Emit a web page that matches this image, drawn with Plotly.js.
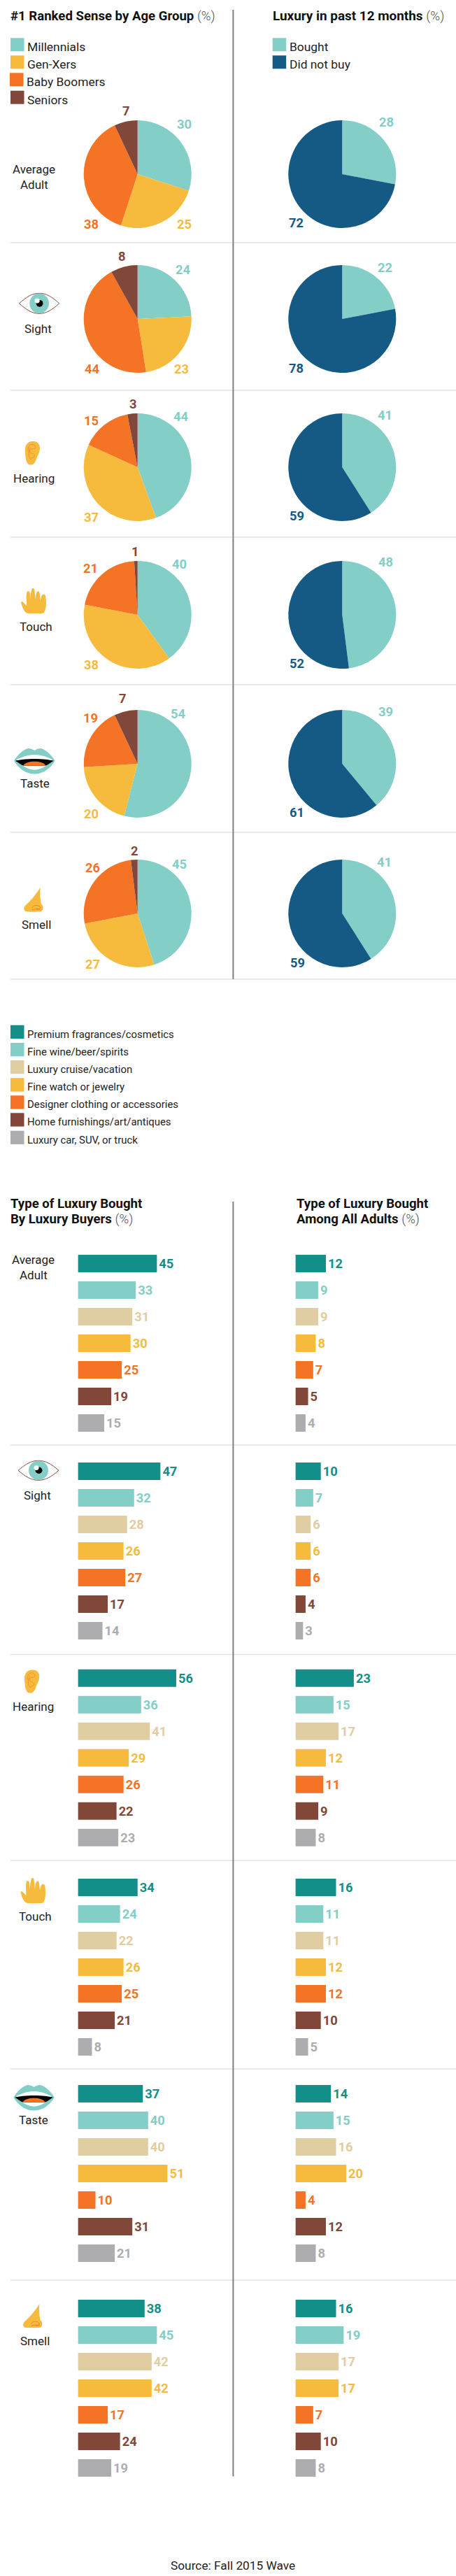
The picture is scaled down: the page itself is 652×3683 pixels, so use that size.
<!DOCTYPE html>
<html>
<head>
<meta charset="utf-8">
<script src="https://cdn.plot.ly/plotly-3.0.1.min.js"></script>
<style>
  html, body { margin: 0; padding: 0; background: #fff; }
</style>
</head>
<body>
<div id="chart" style="width:652px;height:3683px"></div>
<script>
// pie data, top half
const senses = ['Average Adult', 'Sight', 'Hearing', 'Touch', 'Taste', 'Smell'];
const ageGroups = ['Millennials', 'Gen-Xers', 'Baby Boomers', 'Seniors'];
const ageAverage = [30, 25, 38, 7];
const ageSight = [24, 23, 44, 8];
const ageHearing = [44, 37, 15, 3];
const ageTouch = [40, 38, 21, 1];
const ageTaste = [54, 20, 19, 7];
const ageSmell = [45, 27, 26, 2];

const buyGroups = ['Bought', 'Did not buy'];
const buyAverage = [28, 72];
const buySight = [22, 78];
const buyHearing = [41, 59];
const buyTouch = [48, 52];
const buyTaste = [39, 61];
const buySmell = [41, 59];

// bar data, bottom half
const luxuryTypes = ['Premium fragrances/cosmetics', 'Fine wine/beer/spirits', 'Luxury cruise/vacation', 'Fine watch or jewelry', 'Designer clothing or accessories', 'Home furnishings/art/antiques', 'Luxury car, SUV, or truck'];
const buyersAverage = [45, 33, 31, 30, 25, 19, 15];
const buyersSight = [47, 32, 28, 26, 27, 17, 14];
const buyersHearing = [56, 36, 41, 29, 26, 22, 23];
const buyersTouch = [34, 24, 22, 26, 25, 21, 8];
const buyersTaste = [37, 40, 40, 51, 10, 31, 21];
const buyersSmell = [38, 45, 42, 42, 17, 24, 19];

const adultsAverage = [12, 9, 9, 8, 7, 5, 4];
const adultsSight = [10, 7, 6, 6, 6, 4, 3];
const adultsHearing = [23, 15, 17, 12, 11, 9, 8];
const adultsTouch = [16, 11, 11, 12, 12, 10, 5];
const adultsTaste = [14, 15, 16, 20, 4, 12, 8];
const adultsSmell = [16, 19, 17, 17, 7, 10, 8];

// colours
const teal = '#138f89', cyan = '#83cec6', tan = '#e0cda1', yellow = '#f6bb3d';
const orange = '#f47324', brown = '#814739', grey = '#adadb0', navy = '#145a85';
const ageColors = [cyan, yellow, orange, brown];
const buyColors = [cyan, navy];
const luxuryColors = [teal, cyan, tan, yellow, orange, brown, grey];

const W = 652, H = 3683;
const FONT = 'Roboto, sans-serif';
const px = x => x / W;
const py = y => 1 - y / H;

const traces = [];
const annotations = [];
const shapes = [];
const images = [];

function label(x, y, text, size, color, anchor, bold) {
    annotations.push({
        xref: 'paper', yref: 'paper', x: px(x), y: py(y),
        text: text, showarrow: false,
        xanchor: anchor || 'left', yanchor: 'middle',
        borderpad: 0, borderwidth: 0,
        font: { family: FONT, size: size, color: color, weight: bold ? 700 : 400 },
    });
}

function rect(x0, y0, x1, y1, color) {
    shapes.push({
        type: 'rect', xref: 'paper', yref: 'paper', layer: 'below',
        x0: px(x0), x1: px(x1), y0: py(y0), y1: py(y1),
        fillcolor: color, line: { width: 0 },
    });
}

function rule(x0, y0, x1, y1, color, width) {
    shapes.push({
        type: 'line', xref: 'paper', yref: 'paper', layer: 'below',
        x0: px(x0), x1: px(x1), y0: py(y0), y1: py(y1),
        line: { color: color, width: width },
    });
}

// pies
const PIE_R = 77;
const pieCentersX = [196.7, 489.3];
const pieCentersY = [249, 456, 668, 879, 1092, 1306];

function addPie(labels, values, colors, cx, cy) {
    traces.push({
        type: 'pie', labels: labels, values: values,
        sort: false, direction: 'clockwise', rotation: 0,
        marker: { colors: colors, line: { width: 0 } },
        textinfo: 'none', hoverinfo: 'label+value', showlegend: false,
        domain: { x: [px(cx - PIE_R), px(cx + PIE_R)], y: [py(cy + PIE_R), py(cy - PIE_R)] },
    });
}

const ageSets = [ageAverage, ageSight, ageHearing, ageTouch, ageTaste, ageSmell];
const buySets = [buyAverage, buySight, buyHearing, buyTouch, buyTaste, buySmell];

// where the number beside each slice sits, same order as the slices
const ageLabelSpots = [
    [[263, 177], [263, 320], [130, 320], [180, 159]],
    [[261, 385], [259, 527], [131, 527], [174, 366]],
    [[258, 596], [130, 739], [130, 602], [190, 578]],
    [[256, 807], [130, 950], [129, 812], [193, 789]],
    [[254, 1021], [130, 1163], [129, 1026], [175, 998]],
    [[256, 1235], [132, 1378], [132, 1240], [192, 1216]],
];
const buyLabelSpots = [
    [[552, 175], [423, 319]],
    [[550, 382], [423, 526]],
    [[550, 593], [424, 738]],
    [[551, 804], [424, 949]],
    [[551, 1018], [424, 1162]],
    [[549, 1232], [425, 1376]],
];

ageSets.forEach((vals, i) => {
    addPie(ageGroups, vals, ageColors, pieCentersX[0], pieCentersY[i]);
    vals.forEach((v, j) => label(ageLabelSpots[i][j][0], ageLabelSpots[i][j][1], String(v), 18.3, ageColors[j], 'center', true));
});
buySets.forEach((vals, i) => {
    addPie(buyGroups, vals, buyColors, pieCentersX[1], pieCentersY[i]);
    vals.forEach((v, j) => label(buyLabelSpots[i][j][0], buyLabelSpots[i][j][1], String(v), 18.3, buyColors[j], 'center', true));
});

// bars, one small subplot per cell
const layoutAxes = {};
const barTops = [1794, 2091, 2386.7, 2686, 2981, 3288];
const BAR_PITCH = 38, BAR_H = 25;
const buyerSets = [buyersAverage, buyersSight, buyersHearing, buyersTouch, buyersTaste, buyersSmell];
const adultSets = [adultsAverage, adultsSight, adultsHearing, adultsTouch, adultsTaste, adultsSmell];
let axisNo = 1;

function addBars(values, x0, unitPx, maxVal, top) {
    const suffix = axisNo === 1 ? '' : String(axisNo);
    const y0 = top - (BAR_PITCH - BAR_H) / 2;
    traces.push({
        type: 'bar', orientation: 'h',
        x: values, y: luxuryTypes,
        xaxis: 'x' + suffix, yaxis: 'y' + suffix,
        marker: { color: luxuryColors, line: { width: 0 } },
        text: values.map(String), textposition: 'outside', cliponaxis: false,
        constraintext: 'none',
        textfont: { family: FONT, size: 18.3, color: luxuryColors, weight: 700 },
        showlegend: false, hoverinfo: 'x+y',
    });
    layoutAxes['xaxis' + suffix] = {
        domain: [px(x0), px(x0 + maxVal * unitPx)], range: [0, maxVal],
        visible: false, fixedrange: true, anchor: 'y' + suffix,
    };
    layoutAxes['yaxis' + suffix] = {
        domain: [py(y0 + BAR_PITCH * 7), py(y0)],
        type: 'category', categoryorder: 'array', categoryarray: luxuryTypes,
        autorange: 'reversed', visible: false, fixedrange: true, anchor: 'x' + suffix,
    };
    axisNo++;
}

buyerSets.forEach((vals, i) => addBars(vals, 111.4, 2.51, 70, barTops[i]));
adultSets.forEach((vals, i) => addBars(vals, 422.4, 3.63, 40, barTops[i]));

// rules
const GRID = '#e4e4e4', DIVIDER = '#7f7f7f';
[347, 558, 768, 979, 1190, 1400, 2066, 2365.5, 2660, 2958, 3260].forEach(y => rule(15, y, 652, y, GRID, 1.5));
rule(333.4, 14, 333.4, 1400, DIVIDER, 2);
rule(333.4, 1718, 333.4, 3540.5, DIVIDER, 2);

// titles
const PCT = ' <span style="color:#555555;font-weight:300">(%)</span>';
label(15, 23, '<b>#1 Ranked Sense by Age Group</b>' + PCT, 18.6, '#111111');
label(390, 23, '<b>Luxury in past 12 months</b>' + PCT, 18.9, '#111111');
label(15, 1721, '<b>Type of Luxury Bought</b>', 18.6, '#111111');
label(15, 1743, '<b>By Luxury Buyers</b>' + PCT, 18.6, '#111111');
label(423.5, 1721, '<b>Type of Luxury Bought</b>', 18.6, '#111111');
label(423.5, 1743, '<b>Among All Adults</b>' + PCT, 18.6, '#111111');

// legends, swatches are drawn by hand
const TXT = '#222222';
const ageLegendY = [54.3, 79.3, 104.3, 129.7];
ageGroups.forEach((name, i) => {
    const dx = i === 2 ? -1 : 0;
    rect(15 + dx, ageLegendY[i], 34.5 + dx, ageLegendY[i] + 19, ageColors[i]);
    label(39 + dx, ageLegendY[i] + 13, name, 17.4, TXT);
});
buyGroups.forEach((name, i) => {
    rect(389.7, ageLegendY[i], 409.2, ageLegendY[i] + 19, buyColors[i]);
    label(413.6, ageLegendY[i] + 13, name, 17.4, TXT);
});
const luxLegendY = [1465.7, 1491, 1516, 1541.3, 1566.3, 1591.3, 1616.7];
luxuryTypes.forEach((name, i) => {
    rect(15, luxLegendY[i], 34.5, luxLegendY[i] + 19.3, luxuryColors[i]);
    label(39, luxLegendY[i] + 13, name, 14.9, TXT);
});

// row names
label(48.5, 242, 'Average', 17, TXT, 'center');
label(48.5, 264, 'Adult', 17, TXT, 'center');
label(47.5, 1801, 'Average', 17, TXT, 'center');
label(47.5, 1823, 'Adult', 17, TXT, 'center');
label(54.6, 470, 'Sight', 17, TXT, 'center');
label(53.8, 2138, 'Sight', 17, TXT, 'center');
label(48.3, 684, 'Hearing', 17, TXT, 'center');
label(47, 2440, 'Hearing', 17, TXT, 'center');
label(51.3, 896, 'Touch', 17, TXT, 'center');
label(50, 2740, 'Touch', 17, TXT, 'center');
label(49.6, 1120, 'Taste', 17, TXT, 'center');
label(48.3, 3031, 'Taste', 17, TXT, 'center');
label(51.7, 1322, 'Smell', 17, TXT, 'center');
label(50.4, 3347, 'Smell', 17, TXT, 'center');

label(333, 3668, 'Source: Fall 2015 Wave', 17.3, TXT, 'center');

// little sense icons as inline svg
const eyeSvg = `<svg xmlns="http://www.w3.org/2000/svg" viewBox="0 0 60 32">
<path d="M1 16 C12 6 20 1 30 1 C40 1 48 6 59 16 C48 26 40 31 30 31 C20 31 12 26 1 16Z" fill="#fff" stroke="${brown}" stroke-width="1"/>
<ellipse cx="30" cy="16" rx="14" ry="14.7" fill="${cyan}"/>
<circle cx="30.5" cy="16" r="5" fill="#000"/><circle cx="27" cy="12" r="3.6" fill="#fff"/></svg>`;
const earSvg = `<svg xmlns="http://www.w3.org/2000/svg" viewBox="0 0 22 34">
<path d="M0.5 13 C0.5 5 5 0 12 0 C18 0 22 4 22 10 C22 16 19 20 17.5 24 C15.5 30 13 34 9 34 C4 34 2 29 1.5 24 C1 20 0.5 17 0.5 13Z" fill="${yellow}"/>
<path d="M5 14 C4 7 9 3 13 5 C17 7 16 11 13 11 C9 11 6 13 8 16 C10 18 13 18 14 20 C15 23 12 25 9 24 M8 9 C6 12 6 18 6 21 C7 25 9 27 10 26" fill="none" stroke="${orange}" stroke-width=".6"/></svg>`;
const handSvg = `<svg xmlns="http://www.w3.org/2000/svg" viewBox="0 0 36 36">
<path d="M10 36 C5 35 3 30 0 21 C0 19 2 18 3 20 L8 25 C8 18 7 12 8 7 C8 3 12 3 12.5 7 L13.5 16 C13.5 10 14 5 15.5 1 C16.5 -1 18.5 0 19 2 L20.5 16 C21 11 21 7 23 5 C25 3 26 5 26.5 8 L27.5 18 C28 14 29 10 31 9 C33 8 35 10 35 13 C36 20 36 28 33 34 C32 36 30 36 28 36 Z" fill="${yellow}"/></svg>`;
const mouthSvg = `<svg xmlns="http://www.w3.org/2000/svg" viewBox="0 0 58 37">
<path d="M0 18 C5 9 14 1 20 0 C24 0 27 2 29 3 C31 2 34 0 38 0 C44 1 53 9 58 18 C52 28 42 37 29 37 C16 37 6 28 0 18Z" fill="${cyan}"/>
<path d="M4 16 C14 11 22 9 29 9 C36 9 44 11 54 16 C48 25 38 31 29 31 C20 31 10 25 4 16Z" fill="#fff"/>
<path d="M2 18 C12 14 46 14 56 18 C51 21 47 25 44 25 L14 25 C11 25 7 21 2 18Z" fill="#000"/>
<path d="M13 25 C17 17 41 17 45 25Z" fill="${orange}"/></svg>`;
const noseSvg = `<svg xmlns="http://www.w3.org/2000/svg" viewBox="0 0 28 36">
<path d="M24 0 C23 10 24 18 25 24 C29 27 29 33 25 35 C18 36 8 36 3 35 C0 33 0 30 2 27 C10 20 18 10 24 0Z" fill="${yellow}"/>
<path d="M12 30 C13 26 20 25 23 28 C25 31 22 33 18 32 M12 33 C16 31 20 31 24 32" fill="none" stroke="${orange}" stroke-width=".8"/></svg>`;

function icon(svg, x0, y0, x1, y1) {
    images.push({
        source: 'data:image/svg+xml;charset=utf-8,' + encodeURIComponent(svg),
        xref: 'paper', yref: 'paper', x: px(x0), y: py(y0),
        sizex: (x1 - x0) / W, sizey: (y1 - y0) / H,
        xanchor: 'left', yanchor: 'top', sizing: 'stretch', layer: 'above',
    });
}
icon(eyeSvg, 26.5, 418.3, 85.7, 449.3);
icon(eyeSvg, 25, 2087.3, 85, 2117.3);
icon(earSvg, 35.3, 630.7, 57, 664.7);
icon(earSvg, 34.5, 2387.3, 56.3, 2420.7);
icon(handSvg, 30, 841, 66.4, 877);
icon(handSvg, 29.4, 2685, 65.6, 2721);
icon(mouthSvg, 20, 1070, 78.6, 1106.7);
icon(mouthSvg, 19.3, 2981, 77.8, 3017.7);
icon(noseSvg, 33.6, 1268.7, 61.8, 1304);
icon(noseSvg, 32.4, 3293.8, 60.5, 3328.6);

const layout = Object.assign({
    width: W, height: H,
    margin: { l: 0, r: 0, t: 0, b: 0, pad: 0 },
    paper_bgcolor: '#ffffff', plot_bgcolor: 'rgba(0,0,0,0)',
    font: { family: FONT, color: TXT },
    showlegend: false, bargap: 0.342,
    annotations: annotations, shapes: shapes, images: images,
}, layoutAxes);

Plotly.newPlot('chart', traces, layout, { staticPlot: true, displayModeBar: false });
</script>
</body>
</html>
